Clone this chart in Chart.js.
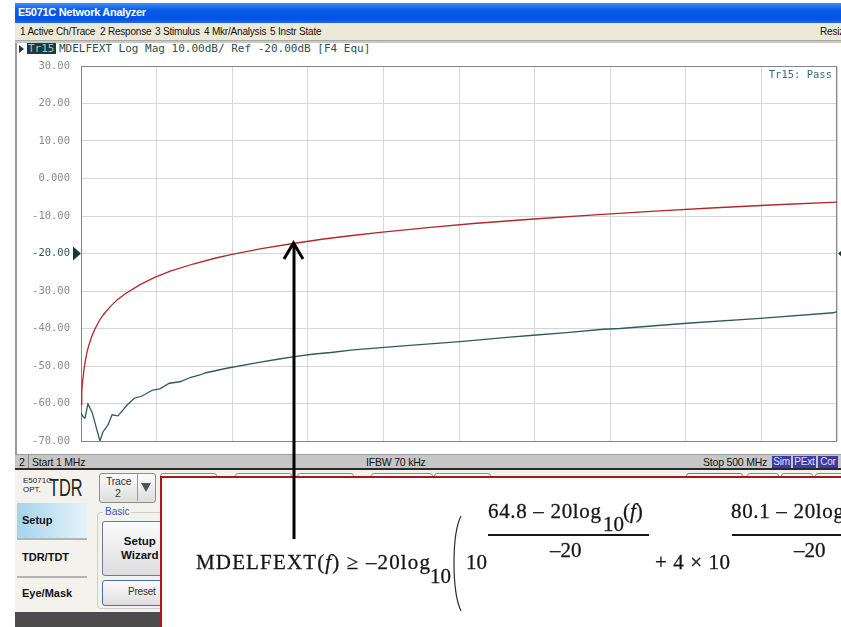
<!DOCTYPE html>
<html>

<head>
    <title>E5071C Network Analyzer</title>

    <style>
        body {
            margin: 0;
            width: 841px;
            height: 627px;
            overflow: hidden;
            background: #ffffff;
            position: relative;
            font-family: "Liberation Sans", Arial, sans-serif;
        }

        .abs {
            position: absolute;
            white-space: nowrap;
        }

        .ui {
            font-size: 10px;
            letter-spacing: -0.2px;
            color: #111;
        }

        .mono {
            font-family: "DejaVu Sans Mono", monospace;
            font-size: 11px;
        }

        .btn {
            position: absolute;
            border: 1px solid #8c8c8c;
            border-radius: 3px;
            background: linear-gradient(#fbfbfb, #dedede);
        }
    </style>
</head>

<body>
    <!-- window chrome -->
    <div class="abs" style="left:15px;top:3px;width:826px;height:20px;background:linear-gradient(#3d8ef7,#0a5ce6 35%,#0055e0 80%,#1c6aea);"></div>
    <div class="abs" style="left:18px;top:6px;color:#fff;font-weight:bold;font-size:11px;letter-spacing:-0.3px;">E5071C Network Analyzer</div>

    <div class="abs" style="left:15px;top:23px;width:826px;height:17px;background:#ece9d8;border-bottom:1px solid #a8a8a0;"></div>
    <div class="abs" style="left:15px;top:41px;width:826px;height:2px;background:#c8c8c8;"></div>
    <div class="abs ui" style="left:20px;top:26px;">1 Active Ch/Trace</div>
    <div class="abs ui" style="left:100px;top:26px;">2 Response</div>
    <div class="abs ui" style="left:155px;top:26px;">3 Stimulus</div>
    <div class="abs ui" style="left:204px;top:26px;">4 Mkr/Analysis</div>
    <div class="abs ui" style="left:270px;top:26px;">5 Instr State</div>
    <div class="abs ui" style="left:820px;top:26px;">Resiz</div>

    <div class="abs" style="left:15px;top:43px;width:2px;height:412px;background:#9a9a9a;"></div>

    <!-- trace title -->
    <div class="abs" style="left:19px;top:45px;width:0;height:0;border-top:4px solid transparent;border-bottom:4px solid transparent;border-left:5px solid #1c3a3a;"></div>
    <div class="abs mono" style="left:27px;top:43px;height:11px;line-height:11px;padding:0 1px;background:#1c3a3a;color:#9fc4c4;">Tr15</div>
    <div class="abs mono" style="left:59px;top:42px;color:#2d4f4f;">MDELFEXT Log Mag 10.00dB/ Ref -20.00dB [F4 Equ]</div>

    <canvas id="trace" class="abs" style="left:17px;top:43px;" width="824" height="412"></canvas>

    <!-- status bar -->
    <div class="abs" style="left:15px;top:454px;width:826px;height:14px;background:#c6c6c6;border-top:1px solid #9c9c9c;"></div>
    <div class="abs" style="left:15px;top:468px;width:826px;height:2px;background:#2a2a2a;"></div>
    <div class="abs ui" style="left:19px;top:456px;font-size:10.5px;">2</div>
    <div class="abs" style="left:28px;top:455px;width:1px;height:13px;background:#8a8a8a;"></div>
    <div class="abs ui" style="left:32px;top:456px;font-size:10.5px;">Start 1 MHz</div>
    <div class="abs ui" style="left:366px;top:456px;font-size:10.5px;">IFBW 70 kHz</div>
    <div class="abs ui" style="left:703px;top:456px;font-size:10.5px;">Stop 500 MHz</div>
    <div class="abs ui" style="left:772px;top:456px;width:19px;height:12px;line-height:12px;text-align:center;background:#3c3ca4;color:#e0e0ff;">Sim</div>
    <div class="abs ui" style="left:793px;top:456px;width:23px;height:12px;line-height:12px;text-align:center;background:#3c3ca4;color:#e0e0ff;">PExt</div>
    <div class="abs ui" style="left:818px;top:456px;width:20px;height:12px;line-height:12px;text-align:center;background:#3c3ca4;color:#e0e0ff;">Cor</div>

    <!-- softkey panel -->
    <div class="abs" style="left:15px;top:470px;width:826px;height:142px;background:#f3f2ec;"></div>
    <div class="abs" style="left:15px;top:612px;width:826px;height:15px;background:#4c4c4c;"></div>
    <div class="abs" style="left:23px;top:476px;font-size:8px;line-height:9px;color:#222;">E5071C<br>OPT.</div>
    <div class="abs" style="left:49px;top:474px;font-size:24px;color:#222;transform:scaleX(0.68);transform-origin:left top;">TDR</div>

    <div class="btn" style="left:99px;top:473px;width:55px;height:28px;"></div>
    <div class="abs" style="left:137px;top:474px;width:1px;height:27px;background:#9a9a9a;"></div>
    <div class="abs ui" style="left:106px;top:475px;font-size:10.5px;color:#333;">Trace</div>
    <div class="abs ui" style="left:115px;top:487px;font-size:10.5px;color:#333;">2</div>
    <div class="abs" style="left:141px;top:483px;width:0;height:0;border-left:5px solid transparent;border-right:5px solid transparent;border-top:9px solid #555;"></div>

    <div class="btn" style="left:160px;top:473px;width:55px;height:30px;"></div>
    <div class="btn" style="left:235px;top:473px;width:55px;height:30px;"></div>
    <div class="btn" style="left:297px;top:473px;width:55px;height:30px;"></div>
    <div class="btn" style="left:371px;top:473px;width:60px;height:30px;"></div>
    <div class="btn" style="left:434px;top:473px;width:55px;height:30px;"></div>
    <div class="btn" style="left:686px;top:473px;width:55px;height:30px;border-color:#5a7ab8;"></div>
    <div class="btn" style="left:747px;top:473px;width:30px;height:30px;"></div>
    <div class="btn" style="left:781px;top:473px;width:30px;height:30px;"></div>
    <div class="btn" style="left:815px;top:473px;width:30px;height:30px;"></div>

    <div class="abs" style="left:17px;top:503px;width:70px;height:35px;background:linear-gradient(90deg,#a4d4ec,#e6f3f8);"></div>
    <div class="abs" style="left:22px;top:514px;font-size:11px;font-weight:bold;color:#111;">Setup</div>
    <div class="abs" style="left:17px;top:538px;width:70px;height:2px;background:#b4b4b4;"></div>
    <div class="abs" style="left:22px;top:551px;font-size:11px;font-weight:bold;color:#111;">TDR/TDT</div>
    <div class="abs" style="left:17px;top:576px;width:70px;height:2px;background:#b4b4b4;"></div>
    <div class="abs" style="left:22px;top:587px;font-size:11px;font-weight:bold;color:#111;">Eye/Mask</div>

    <div class="abs" style="left:97px;top:512px;width:90px;height:95px;border:1px solid #cfcfc6;border-radius:4px;"></div>
    <div class="abs" style="left:103px;top:506px;padding:0 2px;background:#f3f2ec;font-size:10px;color:#3556c8;">Basic</div>
    <div class="btn" style="left:102px;top:521px;width:70px;height:53px;border-color:#6a7c9c;"></div>
    <div class="abs" style="left:121px;top:534px;font-size:11.5px;font-weight:bold;color:#111;line-height:14px;text-align:center;">Setup<br>Wizard</div>
    <div class="btn" style="left:102px;top:580px;width:70px;height:24px;border-color:#4a70b4;"></div>
    <div class="abs ui" style="left:128px;top:586px;color:#333;">Preset</div>

    <!-- formula box -->
    <div class="abs" style="left:160px;top:476px;width:720px;height:200px;border:2px solid #a81818;background:#fff;"></div>

    <svg class="abs" style="left:0;top:0;" width="841" height="627">
        <g font-family="Liberation Serif, serif" font-size="21" fill="#15151c" stroke="#15151c" stroke-width="0.3">
            <text x="196" y="569" textLength="234" lengthAdjust="spacing">MDELFEXT(<tspan font-style="italic">f</tspan>) ≥ –20log</text>
            <text x="430" y="583">10</text>
            <text x="466" y="569">10</text>
            <text x="488" y="518" textLength="113" lengthAdjust="spacing">64.8 – 20log</text>
            <text x="603" y="531">10</text>
            <text x="623" y="518">(<tspan font-style="italic">f</tspan>)</text>
            <text x="550" y="557">–20</text>
            <text x="655" y="569" textLength="75" lengthAdjust="spacing">+ 4 × 10</text>
            <text x="731" y="518" textLength="113" lengthAdjust="spacing">80.1 – 20log</text>
            <text x="794" y="557">–20</text>
        </g>
        <line x1="488" y1="535" x2="649" y2="535" stroke="#15151c" stroke-width="2" />
        <line x1="732" y1="535" x2="845" y2="535" stroke="#15151c" stroke-width="2" />
        <path d="M461 516 Q454 530 454 563 Q454 596 461 611" fill="none" stroke="#2a2a3a" stroke-width="1.2" />
        <!-- arrow -->
        <line x1="294" y1="246" x2="294" y2="539" stroke="#000" stroke-width="3" />
        <polyline points="284,259 293.5,243 303,259" fill="none" stroke="#000" stroke-width="3" />
    </svg>

    <script src="https://cdn.jsdelivr.net/npm/chart.js"></script>

    <script>
        // limit line (red), MHz / dB
        const limitFreq = [1, 1.5, 2, 3, 4, 5, 6, 8, 10, 13, 16, 20, 25, 30, 40, 50, 60, 75, 90, 100, 120, 140, 160, 180, 200, 230, 260, 300, 340, 380, 420, 460, 500]
        const limitDb = [-60.3, -56.8, -54.3, -50.8, -48.3, -46.3, -44.7, -42.2, -40.3, -38.0, -36.2, -34.3, -32.3, -30.8, -28.3, -26.3, -24.7, -22.8, -21.2, -20.3, -18.7, -17.4, -16.2, -15.2, -14.3, -13.1, -12.0, -10.8, -9.7, -8.7, -7.8, -7.0, -6.3]

        // measured trace (dark teal)
        const measFreq = [1, 2.5, 3.6, 5.6, 8.3, 13.5, 15.5, 18.8, 21.5, 25.4, 29.6, 31.4, 36.2, 41.3, 48.3, 53.1, 59.3, 66.3, 73.6, 79.5, 83.5, 97.2, 117.6, 130.8, 141.8, 155, 166, 180.7, 211.5, 251.1, 284.1, 299.5, 321.6, 345.8, 356.8, 400.8, 449.2, 497.6, 500]
        const measDb = [-62.5, -63.6, -63.9, -60.1, -62.3, -70, -67.6, -65.7, -63.0, -63.3, -61.3, -60.4, -58.6, -58.0, -56.4, -56.1, -54.6, -54.2, -53.0, -52.4, -51.8, -50.6, -49.1, -48.2, -47.5, -46.8, -46.4, -45.7, -44.7, -43.5, -42.3, -41.8, -41.1, -40.2, -40.0, -38.6, -37.3, -35.8, -35.5]

        // 10 divisions from start 1 MHz to stop 500 MHz
        const xGrid = [1, 50.9, 100.8, 150.7, 200.6, 250.5, 300.4, 350.3, 400.2, 450.1, 500]
        const refLevel = -20

        const gridColour = '#d6d6d6'
        const frameColour = '#858585'
        const tealText = '#2a5656'

        const screenBits = {
            id: 'screenBits',
            beforeDatasetsDraw(chart) {
                const a = chart.chartArea
                const c = chart.ctx
                c.save()
                c.strokeStyle = frameColour
                c.lineWidth = 1
                c.strokeRect(Math.round(a.left) + 0.5, Math.round(a.top) + 0.5, Math.round(a.right - a.left) - 1, Math.round(a.bottom - a.top))
                c.restore()
            },
            afterDraw(chart) {
                const a = chart.chartArea
                const c = chart.ctx
                const ry = chart.scales.y.getPixelForValue(refLevel)
                c.save()
                c.fillStyle = '#163838'
                c.beginPath()
                c.moveTo(a.left - 8, ry - 7)
                c.lineTo(a.left, ry)
                c.lineTo(a.left - 8, ry + 7)
                c.fill()
                c.beginPath()
                c.moveTo(a.right + 1, ry)
                c.lineTo(a.right + 9, ry - 7)
                c.lineTo(a.right + 9, ry + 7)
                c.fill()
                c.font = '10.5px "DejaVu Sans Mono"'
                c.fillStyle = '#3a6a6a'
                c.textAlign = 'right'
                c.textBaseline = 'middle'
                c.fillText('Tr15: Pass', a.right - 5, a.top + 9)
                c.restore()
            }
        }

        new Chart(document.getElementById('trace'), {
            type: 'line',
            data: {
                datasets: [
                    {
                        label: 'Limit',
                        data: limitFreq.map((f, i) => ({ x: f, y: limitDb[i] })),
                        borderColor: '#b3282b',
                        borderWidth: 1.3,
                        pointRadius: 0,
                        tension: 0
                    },
                    {
                        label: 'MDELFEXT',
                        data: measFreq.map((f, i) => ({ x: f, y: measDb[i] })),
                        borderColor: '#2f5b5b',
                        borderWidth: 1.3,
                        pointRadius: 0,
                        tension: 0
                    }
                ]
            },
            options: {
                responsive: false,
                animation: false,
                devicePixelRatio: 1,
                layout: { padding: { top: 23, right: 4, bottom: 14, left: 0 } },
                plugins: {
                    legend: { display: false },
                    tooltip: { enabled: false }
                },
                scales: {
                    x: {
                        type: 'linear',
                        min: 1,
                        max: 500,
                        afterBuildTicks(scale) {
                            scale.ticks = xGrid.map(v => ({ value: v }))
                        },
                        afterFit(scale) {
                            scale.height = 0
                            scale.paddingLeft = 0
                            scale.paddingRight = 0
                        },
                        ticks: { display: false },
                        grid: { color: gridColour, drawTicks: false },
                        border: { display: false }
                    },
                    y: {
                        min: -70,
                        max: 30,
                        afterFit(scale) {
                            scale.width = 64
                            scale.paddingTop = 0
                            scale.paddingBottom = 0
                        },
                        ticks: {
                            stepSize: 10,
                            padding: 11,
                            font: { family: 'DejaVu Sans Mono', size: 10.5 },
                            color: ctx => (ctx.tick && ctx.tick.value === refLevel) ? tealText : '#8a8a8a',
                            callback: v => v === 0 ? '0.000' : v.toFixed(2)
                        },
                        grid: { color: gridColour, drawTicks: false },
                        border: { display: false }
                    }
                }
            },
            plugins: [screenBits]
        });
    </script>

</body>

</html>
